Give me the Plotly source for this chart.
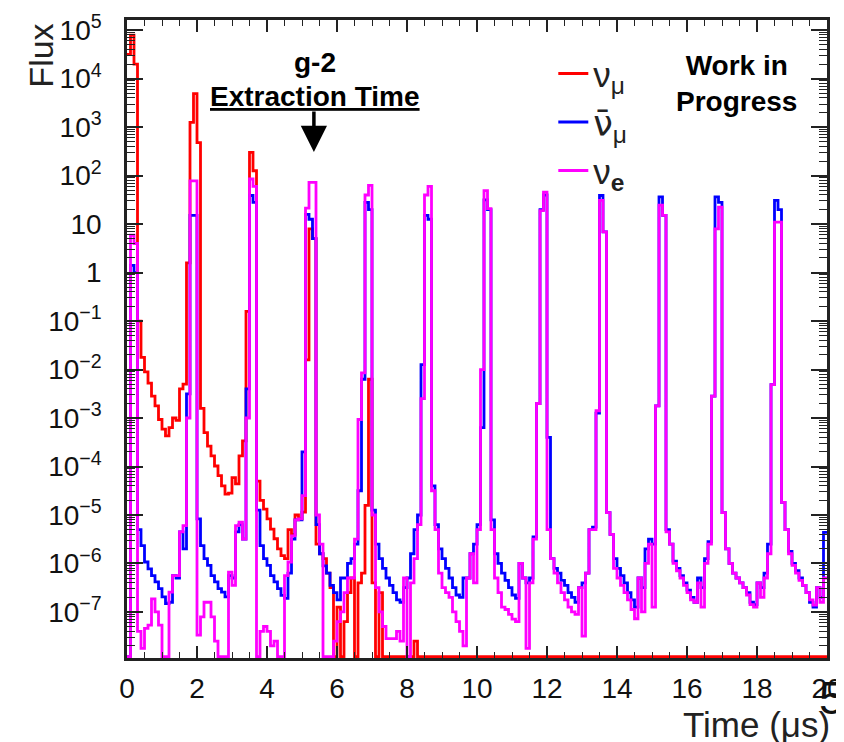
import plotly.graph_objects as go

# ---------------- data (log10 of flux per 0.1 us bin; None = empty bin) ----------------
BIN_WIDTH = 0.1  # us
bin_edges = [round(i * BIN_WIDTH, 1) for i in range(201)]

nu_mu_log10 = [
    4.5, 4.9, 4.3, -1.0, -1.75, -2.05, -2.28, -2.55, -2.75, -3.03,
    -3.23, -3.37, -3.2, -3.0, -3.05, -2.4, -2.3, 0.2, 3.1, 3.69,
    2.68, -2.8, -3.3, -3.58, -3.78, -3.99, -4.19, -4.4, -4.57, -4.55,
    -4.23, -4.36, -3.78, -3.47, -0.8, 2.48, 2.1, -4.3, -4.7, -4.88,
    -5.08, -5.29, -5.49, -5.7, -5.84, -5.9, -5.3, -5.4, -5.0, -5.08,
    -4.94, -1.8, 0.9, 0.7, -5.6, -5.8, -5.9, -6.2, -6.5, None,
    -6.9, None, -7.2, -6.6, -6.3, None, -6.4, -6.2, -4.8, -2.2,
    -6.4, None, -6.6, None, None, None, None, None, None, None,
    None, None, -7.6, None, None, None, None, None, None, None,
    None, None, None, None, None, None, None, None, None, None,
    None, None, None, None, None, None, None, None, None, None,
    None, None, None, None, None, None, None, None, None, None,
    None, None, None, None, None, None, None, None, None, None,
    None, None, None, None, None, None, None, None, None, None,
    None, None, None, None, None, None, None, None, None, None,
    None, None, None, None, None, None, None, None, None, None,
    None, None, None, None, None, None, None, None, None, None,
    None, None, None, None, None, None, None, None, None, None,
    None, None, None, None, None, None, None, None, None, None,
    None, None, None, None, None, None, None, None, None, None,
]

nu_mu_bar_log10 = [
    None, 0.15, 0.0, -5.3, -5.63, -5.97, -6.11, -6.25, -6.38, -6.52,
    -6.69, -6.83, -6.8, -6.25, -6.3, -5.35, -5.7, -2.5, 1.18, 1.18,
    -5.08, -5.63, -5.9, -6.04, -6.25, -6.38, -6.52, -6.59, -6.69, -6.25,
    -6.3, -5.35, -5.2, -5.5, -2.4, 1.59, 1.45, -4.9, -5.63, -5.9,
    -6.04, -6.25, -6.38, -6.52, -6.66, -6.72, -6.2, -5.5, -5.1, -5.1,
    -3.7, 1.2, 1.1, 0.7, -5.2, -5.8, -6.05, -6.2, -6.45, -6.6,
    -6.75, -6.3, -6.3, -6.0, -5.9, -5.6, -4.5, -2.2, 1.45, 1.3,
    -4.9, -5.6, -5.9, -6.1, -6.3, -6.45, -6.6, -6.75, -6.8, -6.5,
    -6.3, -5.8, -5.3, -5.0, -1.9, 1.18, 1.1, -4.4, -5.2, -5.7,
    -5.9, -6.1, -6.3, -6.5, -6.65, -6.7, -6.3, -6.3, -5.8, -5.6,
    -5.2, -3.2, 1.5, 1.3, -5.1, -5.8, -6.0, -6.2, -6.35, -6.5,
    -6.65, -6.72, -6.0, -6.3, -6.4, -6.3, -5.45, -2.7, 1.3, 1.6,
    -3.4, -5.9, -6.1, -6.2, -6.35, -6.45, -6.6, -6.7, -6.8, -6.5,
    -6.4, -6.2, -5.3, -5.25, -2.9, 1.59, 0.84, -4.95, -5.4, -5.9,
    -6.1, -6.25, -6.4, -6.6, -6.75, -6.9, -6.3, -6.5, -5.7, -5.5,
    -5.6, -2.75, 1.56, 1.18, -5.3, -5.6, -5.95, -6.1, -6.25, -6.4,
    -6.55, -6.7, -6.8, -6.3, -6.5, -5.9, -5.55, -2.55, 1.56, 1.45,
    -4.95, -5.7, -6.0, -6.2, -6.3, -6.4, -6.5, -6.6, -6.8, -6.85,
    -6.4, -6.5, -6.2, -5.6, -2.31, 1.49, 1.3, -4.74, -5.3, -5.75,
    -6.0, -6.15, -6.3, -6.45, -6.6, -6.8, -6.9, -6.5, -6.7, -5.36,
]

nu_e_log10 = [
    None, 0.77, 0.6, -7.4, -7.75, -7.34, -7.27, -6.73, -7.0, -7.27,
    None, None, -6.59, -6.25, -6.25, -5.35, -5.22, -3.0, 1.89, 1.89,
    -7.48, -7.1, -6.8, -6.8, -7.1, -7.6, None, None, None, -6.18,
    -6.45, -5.22, -5.15, -5.5, -3.0, 1.93, 1.78, None, -7.4, -7.3,
    -7.4, -7.7, -7.6, None, None, -6.25, -5.97, -5.43, -5.1, -5.08,
    -4.6, 1.33, 1.86, 1.86, -5.0, -5.6, None, None, None, -7.6,
    -7.2, -7.0, -6.6, -6.3, -6.3, -5.5, -3.03, -2.07, 1.6, 1.8,
    -5.0, -6.5, -7.0, -7.3, -7.55, -7.55, -7.55, -7.4, -7.6, -6.3,
    None, -6.4, -5.9, -5.2, -2.6, 1.6, 1.78, -4.5, -5.3, -6.2,
    -6.5, -6.6, -6.7, -7.0, -7.2, -7.4, -7.7, -6.3, -5.8, -6.4,
    -5.3, -2.0, 1.69, 1.32, -5.3, -6.3, -6.6, -6.9, -6.95, -7.05,
    -7.15, -7.2, -6.0, -6.3, -7.75, -6.4, -5.5, -2.7, 1.28, 1.66,
    -5.3, -5.9, -6.2, -6.4, -6.6, -6.75, -6.9, -7.0, -7.05, -6.5,
    -7.5, -6.2, -5.3, -5.3, -2.85, 1.49, 0.84, -4.95, -5.4, -6.1,
    -6.3, -6.45, -6.6, -6.75, -6.95, -7.14, -6.3, -7.0, -6.0, -5.6,
    -6.9, -2.75, 1.39, 1.18, -5.35, -5.6, -6.0, -6.15, -6.3, -6.45,
    -6.6, -6.75, -6.8, -6.4, -6.9, -6.0, -5.6, -2.55, 0.9, 1.35,
    -4.95, -5.7, -6.0, -6.2, -6.3, -6.4, -6.5, -6.65, -6.85, -6.9,
    -6.4, -6.7, -6.3, -5.8, -2.31, 1.04, 1.04, -4.74, -5.3, -5.8,
    -6.04, -6.2, -6.35, -6.45, -6.6, -6.75, -6.86, -6.5, -6.8, -6.3,
]

series_names = [
    "ν<sub>μ</sub>",
    "<span style=\"font-family:'DejaVu Sans'\">ν̄</span><sub>μ</sub>",
    "ν<sub><b>e</b></sub>",
]
series_colors = ["#ff0000", "#0000ff", "#ff00ff"]

y_tick_vals = [1e-7, 1e-6, 1e-5, 1e-4, 1e-3, 1e-2, 1e-1, 1, 10, 1e2, 1e3, 1e4, 1e5]
y_tick_text = ["10<sup>−7</sup>", "10<sup>−6</sup>", "10<sup>−5</sup>", "10<sup>−4</sup>",
               "10<sup>−3</sup>", "10<sup>−2</sup>", "10<sup>−1</sup>", "1", "10",
               "10<sup>2</sup>", "10<sup>3</sup>", "10<sup>4</sup>", "10<sup>5</sup>"]
x_tick_vals = [0, 2, 4, 6, 8, 10, 12, 14, 16, 18, 20]
x_tick_text = ["0", "2", "4", "6", "8", "10", "12", "14", "16", "18", "20"]

# ---------------- figure ----------------
Y_MIN_LOG, Y_MAX_LOG = -7.95, 5.21
EMPTY_BIN_LEVEL = 10 ** (Y_MIN_LOG + 0.03)  # empty bins drawn on the frame like ROOT

for arr in (nu_mu_log10, nu_mu_bar_log10, nu_e_log10):
    assert len(arr) == len(bin_edges) - 1


def step_y(logs):
    vals = [EMPTY_BIN_LEVEL if v is None else 10 ** v for v in logs]
    return vals + [vals[-1]]


FONT = "Liberation Sans, Arial, Helvetica, sans-serif"
fig = go.Figure()
for logs, name, color in zip((nu_mu_log10, nu_mu_bar_log10, nu_e_log10), series_names, series_colors):
    fig.add_trace(go.Scatter(
        x=bin_edges, y=step_y(logs), mode="lines", name=name,
        line=dict(color=color, width=2.8, shape="hv"), legendgroup=name,
    ))

minor_y = [m * 10 ** e for e in range(-8, 6) for m in range(2, 10)]

# the page body keeps the browser's default 8 px margin, so the figure is 8 px smaller
fig.update_layout(
    width=836, height=734,
    margin=dict(l=119, r=17, t=12, b=84, autoexpand=False),
    paper_bgcolor="white", plot_bgcolor="white",
    font=dict(family=FONT, color="#111111", size=28),
    showlegend=True,
    legend=dict(x=0.609, y=0.962, xanchor="left", yanchor="top",
                font=dict(size=35, family=FONT, color="#222222"),
                bgcolor="rgba(0,0,0,0)", tracegroupgap=0, itemwidth=30),
    xaxis=dict(range=[0, 20], showgrid=False, zeroline=False, automargin=False,
               showline=True, linecolor="#222222", linewidth=2.5, mirror="ticks",
               ticks="inside", ticklen=12, tickwidth=1.5, tickcolor="#222222",
               tickmode="array", tickvals=x_tick_vals, ticktext=x_tick_text,
               tickfont=dict(size=28, family=FONT, color="#111111"),
               ticklabelstandoff=4,
               minor=dict(ticks="inside", ticklen=6, tickwidth=1.2, tickcolor="#222222",
                          dtick=0.5, showgrid=False)),
    yaxis=dict(type="log", range=[Y_MIN_LOG, Y_MAX_LOG], showgrid=False, zeroline=False,
               automargin=False,
               showline=True, linecolor="#222222", linewidth=2.5, mirror="ticks",
               ticks="inside", ticklen=16, tickwidth=1.5, tickcolor="#222222",
               tickmode="array", tickvals=y_tick_vals, ticktext=y_tick_text,
               tickfont=dict(size=28, family=FONT, color="#111111"),
               ticklabelstandoff=17,
               minor=dict(ticks="inside", ticklen=8, tickwidth=1, tickcolor="#222222",
                          tickmode="array", tickvals=minor_y, showgrid=False)),
)

ann = []
ann.append(dict(text="Flux", xref="paper", yref="paper", x=-0.123, y=0.944,
                textangle=-90, showarrow=False, xanchor="center", yanchor="middle",
                font=dict(size=34, family=FONT, color="#222222")))
ann.append(dict(text="Time (μs)", xref="paper", yref="paper", x=1.007, y=-0.104,
                showarrow=False, xanchor="right", yanchor="middle",
                font=dict(size=35, family=FONT, color="#222222")))
ann.append(dict(text="<b>g-2</b>", xref="paper", yref="paper", x=0.268, y=0.933,
                showarrow=False, xanchor="center", yanchor="middle",
                font=dict(size=28, family=FONT, color="black")))
ann.append(dict(text="<b><u>Extraction Time</u></b>", xref="paper", yref="paper", x=0.268, y=0.880,
                showarrow=False, xanchor="center", yanchor="middle",
                font=dict(size=28, family=FONT, color="black")))
ann.append(dict(text="", xref="paper", yref="paper", x=0.267, y=(658 - 152) / 638,
                ax=0, ay=-42, axref="pixel", ayref="pixel", showarrow=True,
                arrowhead=2, arrowsize=1.5, arrowwidth=3.5, arrowcolor="black"))
ann.append(dict(text="<b>Work in<br>Progress</b>", xref="paper", yref="paper", x=0.871, y=0.901,
                showarrow=False, xanchor="center", yanchor="middle",
                font=dict(size=28, family=FONT, color="black")))
ann.append(dict(text="5", xref="paper", yref="paper", x=0.985, y=-0.063,
                showarrow=False, xanchor="left", yanchor="middle",
                font=dict(size=46, family=FONT, color="#111111")))
fig.update_layout(annotations=ann)

fig.write_html("out.html")
